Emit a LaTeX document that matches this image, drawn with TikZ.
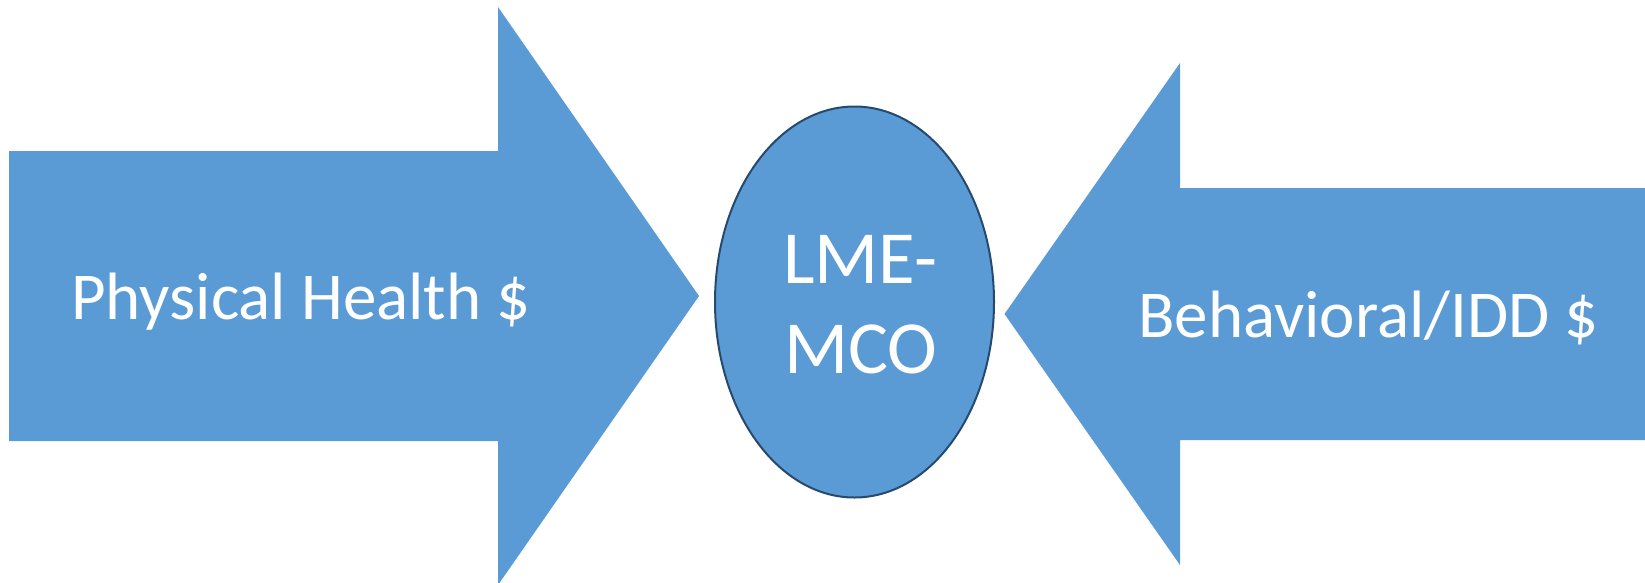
\documentclass[tikz,border=0pt]{standalone}
\usepackage{fontspec}
\setmainfont{Carlito}
\usetikzlibrary{shapes.geometric}
\definecolor{officeblue}{HTML}{5B9BD5}
\definecolor{rimblue}{HTML}{264A6E}
\tikzset{
  bigarrow/.style={fill=officeblue, draw=none},
  arrowtext/.style={text=white, font=\fontsize{67}{80}\selectfont, inner sep=0pt, anchor=base west},
  hub/.style={ellipse, fill=officeblue, draw=rimblue, line width=2pt, minimum width=279pt, minimum height=391pt, inner sep=0pt},
  hubtext/.style={text=white, font=\fontsize{75}{90}\selectfont, inner sep=0pt, anchor=base west}
}
\begin{document}
\begin{tikzpicture}[x=1pt, y=-1pt]
\useasboundingbox (0,0) rectangle (1645,582);
% left arrow
\path[bigarrow] (9,151) -- (498,151) -- (498,7) -- (699,296) -- (498,585) -- (498,441) -- (9,441) -- cycle;
% right arrow
\path[bigarrow] (1645,188) -- (1180,188) -- (1180,63) -- (1004.5,314) -- (1180,565) -- (1180,440) -- (1645,440) -- cycle;
% centre ellipse
\node[hub] (hub) at (854.5,302) {};
\node[hubtext] (l1) at (783,283) {LME-};
\node[hubtext] (l2) at (784,373) {MCO};
% labels
\node[arrowtext] (phys) at (71,319) {Physical Health \$};
\node[arrowtext] (beh) at (1138,337) {Behavioral/IDD \$};
\end{tikzpicture}
\end{document}
